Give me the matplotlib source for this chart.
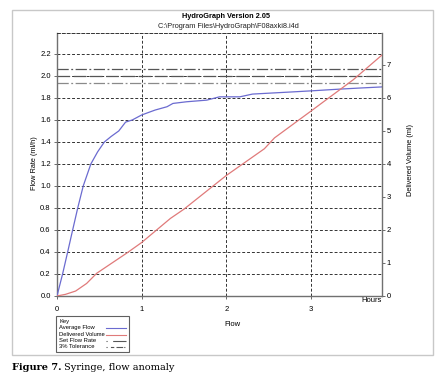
import matplotlib
matplotlib.use("Agg")
import matplotlib.pyplot as plt
from matplotlib.lines import Line2D
from matplotlib.patches import Rectangle

plt.rcParams['font.family'] = ['Liberation Sans', 'DejaVu Sans']

# Data
avg_hours = [0, 0.066, 0.126, 0.185, 0.245, 0.31, 0.40, 0.48, 0.56, 0.64, 0.73, 0.81, 0.89, 1.0,
             1.16, 1.30, 1.37, 1.53, 1.77, 1.92, 2.16, 2.31, 2.55, 2.79, 3.02, 3.34, 3.58, 3.84]
avg_flow = [0, 0.2, 0.4, 0.6, 0.8, 1.0, 1.2, 1.31, 1.4, 1.45, 1.5, 1.58, 1.6, 1.645,
            1.69, 1.72, 1.75, 1.765, 1.78, 1.81, 1.81, 1.835, 1.845, 1.855, 1.865, 1.88, 1.89, 1.90]
vol_hours = [0, 0.1, 0.22, 0.35, 0.47, 0.65, 0.83, 1.0, 1.34, 1.5, 2.0, 2.45, 2.57, 3.0, 3.5, 3.84]
vol_ml = [0, 0.05, 0.15, 0.38, 0.69, 1.0, 1.31, 1.62, 2.35, 2.63, 3.65, 4.46, 4.79, 5.6, 6.55, 7.3]
set_rate = 2.0
tolerance = 0.03
left_ticks = [0.0, 0.2, 0.4, 0.6, 0.8, 1.0, 1.2, 1.4, 1.6, 1.8, 2.0, 2.2]
right_ticks = [0, 1, 2, 3, 4, 5, 6, 7]
x_ticks = [0, 1, 2, 3]
legend_labels = ["Average Flow", "Delivered Volume", "Set Flow Rate", "3% Tolerance"]

BLUE = '#6b6bd0'
RED = '#e07a7a'

W, H = 445, 379
fig = plt.figure(figsize=(W / 100, H / 100), dpi=100)
fig.patch.set_facecolor('white')


def fx(px):
    return px / W


def fy(py):
    return 1 - py / H


# outer panel
fig.add_artist(Rectangle((fx(12), fy(355)), (433 - 12) / W, (355 - 10) / H,
                         transform=fig.transFigure, facecolor='white',
                         edgecolor='#c8c8c8', linewidth=1.0, zorder=0))

ax = fig.add_axes([fx(57), fy(296), (382 - 57) / W, (296 - 33) / H])
ax.set_facecolor('none')
ax.set_xlim(0, 3.84)
ax.set_ylim(0, 2.39)
ax.set_xticks(x_ticks)
ax.set_xticklabels([str(t) for t in x_ticks])
ax.set_yticks(left_ticks)
ax.set_yticklabels([f"{t:.1f}" for t in left_ticks])
ax.tick_params(axis='both', labelsize=5.5, length=2.5, width=0.6, color='#555555', pad=2)
ax.tick_params(axis='x', pad=5)
for s in ['left', 'bottom']:
    ax.spines[s].set_color('#707070')
    ax.spines[s].set_linewidth(1.0)
ax.spines['right'].set_visible(False)
ax.spines['top'].set_linestyle((0, (3, 2)))
ax.spines['top'].set_linewidth(0.7)
ax.spines['top'].set_color('#333333')
ax.grid(True, color='#333333', linestyle=(0, (3, 2)), linewidth=0.7)

ax.axhline(set_rate * (1 + tolerance), color='#555555', linestyle=(0, (9, 2, 1.5, 2)), linewidth=0.9)
ax.axhline(set_rate, color='#555555', linestyle=(0, (10, 3)), linewidth=0.9)
ax.axhline(set_rate * (1 - tolerance), color='#8a8a8a', linestyle=(0, (9, 2, 1.5, 2)), linewidth=0.9)

ax.plot(avg_hours, avg_flow, color=BLUE, linewidth=0.9, zorder=5)

ax2 = ax.twinx()
ax2.set_ylim(0, 2.39 / 0.3)
ax2.set_yticks(right_ticks)
ax2.set_yticklabels([str(t) for t in right_ticks])
ax2.tick_params(axis='y', labelsize=5.5, length=2.5, width=0.6, color='#555555', pad=1)
ax2.spines['right'].set_color('#707070')
ax2.spines['right'].set_linewidth(1.0)
for s in ['left', 'top', 'bottom']:
    ax2.spines[s].set_visible(False)
ax2.plot(vol_hours, vol_ml, color=RED, linewidth=0.9, zorder=5)

# texts
fig.text(fx(226), fy(16), "HydroGraph Version 2.05", ha='center', va='center',
         fontsize=5.3, fontweight='bold')
fig.text(fx(228), fy(27), r"C:\Program Files\HydroGraph\F08axki8.i4d", ha='center',
         va='center', fontsize=5.3, color='#222222')
fig.text(fx(232), fy(324), "Flow", ha='center', va='center', fontsize=5.5)
fig.text(fx(372), fy(300), "Hours", ha='center', va='center', fontsize=5.5)
fig.text(fx(34), fy(163), "Flow Rate (ml/h)", ha='center', va='center', fontsize=5.3,
         rotation=90)
fig.text(fx(411), fy(160), "Delivered Volume (ml)", ha='center', va='center',
         fontsize=5.3, rotation=90)

# legend (drawn as a key box)
fig.add_artist(Rectangle((fx(56), fy(352)), (129 - 56) / W, (352 - 316) / H,
                         transform=fig.transFigure, facecolor='white',
                         edgecolor='#606060', linewidth=0.8, zorder=3))
fig.text(fx(59), fy(321.5), "Key", ha='left', va='center', fontsize=4.2, zorder=4)
rows_y = [328, 334.5, 341, 347]
styles = [dict(color=BLUE, linestyle='-'),
          dict(color=RED, linestyle='-'),
          dict(color='#555555', linestyle=(0, (1, 5, 12, 1))),
          dict(color='#555555', linestyle=(0, (1, 3, 3, 2, 6, 1)))]
for lab, yy, st in zip(legend_labels, rows_y, styles):
    fig.text(fx(59), fy(yy), lab, ha='left', va='center', fontsize=4.2, zorder=4)
    fig.add_artist(Line2D([fx(106), fx(126)], [fy(yy), fy(yy)], transform=fig.transFigure,
                          linewidth=0.8, zorder=4, **st))

# caption
t1 = fig.text(fx(12), fy(368), "Figure 7.", ha='left', va='center', fontsize=7,
              fontweight='bold', family='DejaVu Serif')
fig.canvas.draw()
bb = t1.get_window_extent()
fig.text(bb.x1 / W + 3 / W, fy(368), "Syringe, flow anomaly", ha='left', va='center',
         fontsize=7, family='DejaVu Serif')

fig.savefig("out.png", dpi=100, facecolor='white')
